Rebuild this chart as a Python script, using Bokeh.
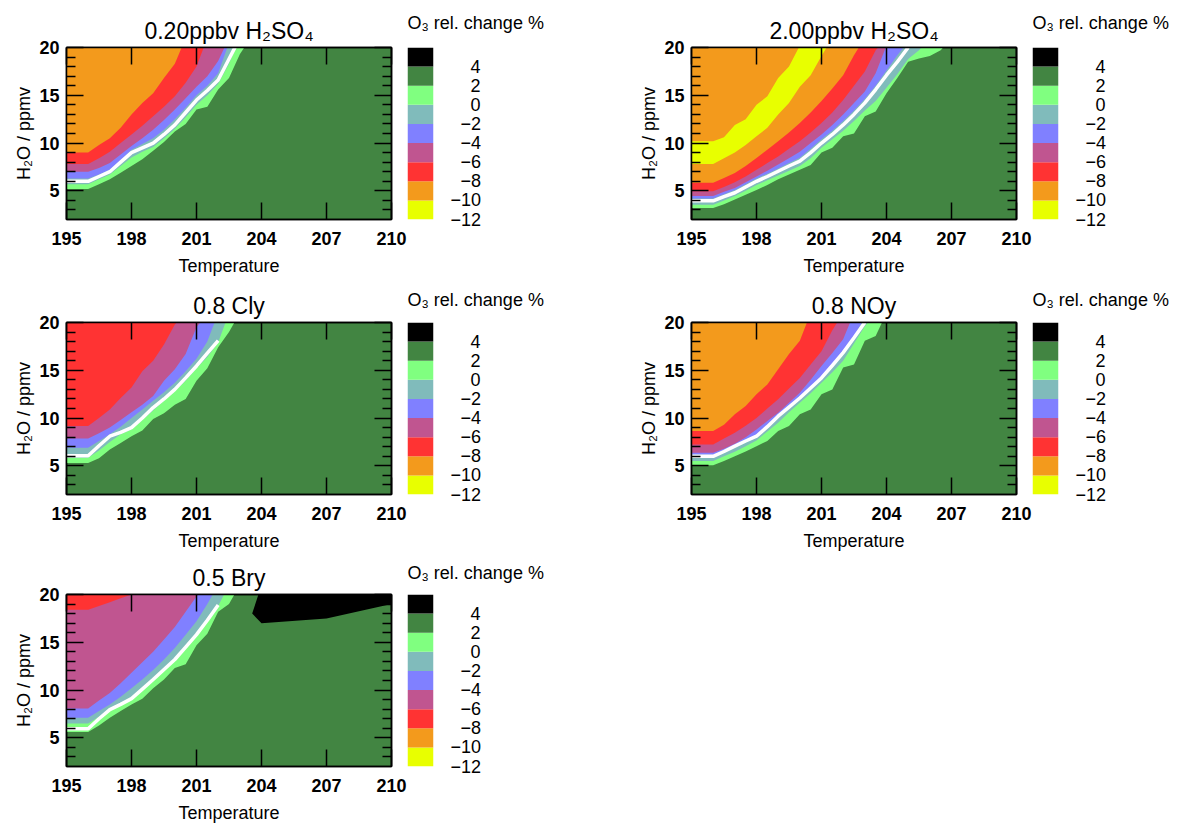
from bokeh.plotting import figure
from bokeh.layouts import column, row
from bokeh.models import FixedTicker, LinearAxis, Range1d
from bokeh.embed import file_html
from bokeh.resources import INLINE

FONT = "Liberation Sans"

# ---------------- data ----------------
T_START = 195.0          # temperature grid of the contour boundaries
T_STEP = 0.5
T_MIN, T_MAX = 195, 210
H_MIN, H_MAX = 2, 20

X_TICKS = [195, 198, 201, 204, 207, 210]
Y_TICKS = [5, 10, 15, 20]
Y_MINOR = [3, 4, 6, 7, 8, 9, 11, 12, 13, 14, 16, 17, 18, 19]

CB_TITLE = "O₃ rel. change %"
CB_LEVELS = [-12, -10, -8, -6, -4, -2, 0, 2, 4, 6]
CB_LABELS = ["−12", "−10", "−8", "−6", "−4", "−2", "0", "2", "4"]
CB_COLORS = ["#e8ff00", "#f39a1c", "#ff3333", "#c05590", "#8080ff",
             "#80bbbb", "#80ff80", "#428542", "#000000"]

# H2O (ppmv) where O3 change crosses each level, on the T grid (195, 195.5, ...)
P1_TITLE = "0.20ppbv H₂SO₄"
P1_L2 = [5.2, 5.2, 5.2, 5.7, 6.2, 6.9, 7.6, 8.3, 9.2, 10.1, 11.2, 12.0, 13.5, 13.8, 15.6, 16.8, 19.3, 21]
P1_L0 = [5.7, 5.7, 5.7, 6.2, 6.7, 7.6, 8.5, 9.1, 9.6, 10.5, 11.5, 12.7, 14.0, 15.0, 16.2, 18.3, 21]
P1_LM2 = [6.3, 6.3, 6.3, 6.7, 7.2, 8.2, 9.3, 9.9, 10.5, 11.4, 12.5, 13.7, 15.0, 16.0, 17.3, 20.5]
P1_LM4 = [7.0, 7.0, 7.0, 7.4, 7.9, 8.8, 9.7, 10.5, 11.4, 12.4, 13.5, 14.7, 15.9, 17.0, 18.6, 21]
P1_LM6 = [7.8, 7.8, 7.8, 8.4, 9.1, 10.0, 10.9, 11.8, 12.8, 13.8, 14.9, 16.3, 18.0, 21]
P1_LM8 = [9.0, 9.0, 9.0, 9.8, 10.5, 11.6, 13.0, 14.2, 15.2, 16.8, 18.3, 21]
P1_WHITE = [6.0, 6.0, 6.0, 6.5, 7.0, 8.0, 9.0, 9.5, 10.0, 10.9, 11.9, 13.2, 14.5, 15.5, 16.6, 18.8, 21]

P2_TITLE = "2.00ppbv H₂SO₄"
P2_L2 = [3.2, 3.2, 3.2, 3.6, 4.1, 4.6, 5.1, 5.6, 6.2, 6.7, 7.2, 7.7, 9.0, 9.5, 10.7, 11.0, 12.8, 13.3,
         15.2, 16.8, 18.5, 18.85, 19.1, 19.7, 21]
P2_L0 = [3.55, 3.55, 3.55, 4.0, 4.45, 5.0, 5.6, 6.1, 6.6, 7.1, 7.6, 8.4, 9.5, 10.4, 11.3, 12.3, 13.4,
         14.4, 15.8, 17.2, 18.8, 19.7, 21]
P2_LM2 = [4.2, 4.2, 4.2, 4.65, 5.1, 5.7, 6.3, 6.8, 7.35, 7.9, 8.45, 9.4, 10.4, 11.3, 12.3, 13.4, 14.6,
          16.0, 17.6, 19.2, 20.6]
P2_LM4 = [4.45, 4.45, 4.45, 4.9, 5.3, 5.9, 6.5, 7.1, 7.75, 8.4, 9.1, 10.0, 10.9, 11.9, 13.0, 14.2, 15.4,
          17.3, 20.2]
P2_LM6 = [4.96, 4.96, 4.96, 5.4, 5.9, 6.5, 7.2, 7.9, 8.6, 9.4, 10.2, 11.1, 12.1, 13.2, 14.5, 16.0, 17.5,
          19.7, 21]
P2_LM8 = [5.85, 5.85, 5.85, 6.35, 6.87, 7.6, 8.44, 9.3, 10.2, 11.1, 12.1, 13.2, 14.4, 15.7, 17.1, 19.2, 21]
P2_LM10_LO = [7.8, 7.8, 7.8, 8.4, 9.0, 9.8, 10.7, 11.6, 13.0, 14.2, 15.9, 17.1, 19.1, 21]
P2_LM10_HI = [10.2, 10.2, 10.2, 10.6, 11.9, 12.5, 14.0, 14.9, 16.8, 18.0, 20.2, 21]
P2_WHITE = [3.95, 3.95, 3.95, 4.4, 4.8, 5.4, 6.0, 6.5, 7.05, 7.6, 8.1, 9.0, 10.0, 10.9, 11.9, 13.0, 14.2,
            15.6, 17.1, 18.5, 20.0]

P3_TITLE = "0.8 Cly"
P3_L2 = [5.3, 5.3, 5.3, 5.8, 6.7, 7.4, 8.1, 8.7, 9.9, 10.5, 11.4, 12.0, 13.9, 15.2, 17.4, 19.0, 21]
P3_L0 = [5.85, 5.85, 5.85, 6.6, 7.5, 8.3, 8.8, 9.8, 10.8, 11.8, 12.8, 13.9, 15.2, 16.4, 17.9, 21]
P3_LM2 = [6.9, 6.9, 6.9, 7.6, 8.3, 9.1, 10.0, 10.9, 11.8, 12.7, 13.7, 14.9, 16.2, 18.0, 21]
P3_LM4 = [7.87, 7.87, 7.87, 8.4, 9.0, 9.8, 10.6, 11.4, 12.3, 13.9, 15.1, 16.7, 19.5, 21]
P3_LM6 = [9.16, 9.16, 9.16, 10.0, 10.9, 12.1, 13.2, 14.9, 16.0, 17.7, 19.8, 21]
P3_WHITE = [6.05, 6.05, 6.05, 7.1, 8.1, 8.5, 9.0, 10.0, 11.1, 12.0, 13.0, 14.2, 15.45, 16.8, 18.1]

P4_TITLE = "0.8 NOy"
P4_L2 = [5.07, 5.07, 5.07, 5.5, 6.0, 6.5, 7.06, 7.6, 8.64, 9.16, 10.4, 10.9, 12.5, 13.0, 15.3, 15.6,
         18.1, 18.6, 21]
P4_L0 = [5.5, 5.5, 5.5, 6.0, 6.47, 7.05, 7.66, 8.6, 9.5, 10.6, 11.6, 12.6, 13.7, 14.8, 16.0, 17.8, 19.6, 21]
P4_LM2 = [6.15, 6.15, 6.15, 6.65, 7.2, 7.75, 8.25, 9.25, 10.35, 11.3, 12.25, 13.3, 14.35, 15.65, 17.0,
          18.6, 20.5]
P4_LM4 = [6.36, 6.36, 6.36, 6.8, 7.3, 8.0, 8.8, 9.7, 10.56, 11.6, 12.66, 14.0, 15.45, 16.8, 18.25, 21]
P4_LM6 = [7.24, 7.24, 7.24, 7.85, 8.46, 9.2, 10.0, 11.0, 11.96, 13.1, 14.2, 15.6, 17.0, 19.2, 21]
P4_LM8 = [8.64, 8.64, 8.64, 9.3, 10.4, 11.25, 12.5, 13.5, 15.1, 16.7, 18.1, 21]
P4_WHITE = [6.0, 6.0, 6.0, 6.5, 7.06, 7.6, 8.1, 9.1, 10.2, 11.15, 12.1, 13.15, 14.2, 15.5, 16.85, 18.4, 20.0]

P5_TITLE = "0.5 Bry"
P5_L2 = [5.6, 5.6, 5.6, 6.3, 7.1, 7.8, 8.5, 9.1, 10.2, 11.1, 12.3, 12.7, 14.7, 15.9, 18.2, 19.0, 21]
P5_L0 = [6.5, 6.5, 6.5, 7.2, 7.9, 8.5, 9.2, 10.2, 11.2, 12.2, 13.2, 14.5, 15.9, 17.3, 18.8, 21]
P5_LM2 = [7.1, 7.1, 7.1, 7.8, 8.5, 9.3, 10.2, 11.1, 12.1, 13.2, 14.4, 15.8, 17.2, 19.0, 21]
P5_LM4 = [8.07, 8.07, 8.07, 8.9, 9.7, 10.7, 11.8, 12.9, 14.0, 15.3, 16.6, 18.2, 19.8, 21]
P5_LM6 = [18.4, 18.4, 18.4, 18.8, 19.2, 19.6, 20.0, 20.5]
P5_GT4_T = [203.9, 203.57, 204.0, 207.0, 210.0, 210.5]
P5_GT4_H = [20.3, 18.0, 17.0, 17.5, 19.0, 19.3]
P5_WHITE = [5.95, 5.95, 5.95, 7.0, 7.96, 8.5, 9.1, 10.1, 11.1, 12.15, 13.2, 14.5, 15.8, 17.3, 18.9]

PANELS = [
    dict(title=P1_TITLE, white=P1_WHITE,
         below={2: P1_L2, 0: P1_L0, -2: P1_LM2, -4: P1_LM4, -6: P1_LM6, -8: P1_LM8}),
    dict(title=P2_TITLE, white=P2_WHITE,
         below={2: P2_L2, 0: P2_L0, -2: P2_LM2, -4: P2_LM4, -6: P2_LM6, -8: P2_LM8,
                -10: (P2_LM10_LO, P2_LM10_HI)}),
    dict(title=P3_TITLE, white=P3_WHITE,
         below={2: P3_L2, 0: P3_L0, -2: P3_LM2, -4: P3_LM4, -6: P3_LM6}),
    dict(title=P4_TITLE, white=P4_WHITE,
         below={2: P4_L2, 0: P4_L0, -2: P4_LM2, -4: P4_LM4, -6: P4_LM6, -8: P4_LM8}),
    dict(title=P5_TITLE, white=P5_WHITE,
         below={2: P5_L2, 0: P5_L0, -2: P5_LM2, -4: P5_LM4, -6: P5_LM6},
         above={4: (P5_GT4_T, P5_GT4_H)}),
]

# ---------------- layout constants ----------------
BORDER_L, FRAME_W, BORDER_R = 66, 325, 16
MAIN_W = BORDER_L + FRAME_W + BORDER_R
FRAME_H = 173
ROWS = [(47, 58, 25), (44, 58, 22), (41, 58, 19)]  # (top border, bottom border, cb title standoff)
CB_W = [218, 145]
CB_BAR_W = 26
FIG_SPACE = "\u2007"


def grid(n):
    return [T_START + T_STEP * i for i in range(n)]


def region_above(h):
    t = grid(len(h))
    xs = [T_MIN - 1] + t + [t[-1], T_MIN - 1]
    ys = [h[0]] + list(h) + [H_MAX + 5, H_MAX + 5]
    return xs, ys


def region_between(lo, hi):
    tl, th = grid(len(lo)), grid(len(hi))
    xs = [T_MIN - 1] + tl + th[::-1] + [T_MIN - 1]
    ys = [lo[0]] + list(lo) + list(hi[::-1]) + [hi[0]]
    return xs, ys


def band_color(level):
    return CB_COLORS[CB_LEVELS.index(level) - 1]


def style_axis(ax):
    ax.axis_line_width = 1.5
    ax.axis_line_color = "black"
    ax.major_tick_in = 17
    ax.major_tick_out = 0
    ax.major_tick_line_width = 1.5
    ax.major_tick_line_color = "black"
    ax.minor_tick_in = 9
    ax.minor_tick_out = 0
    ax.minor_tick_line_width = 1.5
    ax.minor_tick_line_color = "black"
    ax.major_label_text_font = FONT
    ax.major_label_text_font_size = "18px"
    ax.major_label_text_font_style = "bold"
    ax.major_label_text_color = "black"
    ax.axis_label_text_font = FONT
    ax.axis_label_text_font_size = "18px"
    ax.axis_label_text_font_style = "normal"
    ax.axis_label_text_color = "black"


def main_fig(panel, top, bottom):
    p = figure(width=MAIN_W, height=top + FRAME_H + bottom,
               x_range=Range1d(T_MIN, T_MAX), y_range=Range1d(H_MIN, H_MAX),
               output_backend="svg", toolbar_location=None, title=panel["title"],
               min_border_left=BORDER_L, min_border_right=BORDER_R,
               min_border_top=top, min_border_bottom=bottom,
               x_axis_type=None, y_axis_type=None)
    p.background_fill_color = CB_COLORS[CB_LEVELS.index(2)]
    p.border_fill_color = "white"
    p.grid.visible = False
    p.outline_line_color = "black"
    p.outline_line_width = 1.5

    for lev in sorted(panel["below"], reverse=True):
        b = panel["below"][lev]
        xs, ys = region_between(*b) if isinstance(b, tuple) else region_above(b)
        p.patch(xs, ys, fill_color=band_color(lev), line_color=None)
    for lev, (ts, hs) in panel.get("above", {}).items():
        xs = list(ts) + [ts[-1], ts[0]]
        ys = list(hs) + [H_MAX + 5, H_MAX + 5]
        p.patch(xs, ys, fill_color=CB_COLORS[CB_LEVELS.index(lev)], line_color=None)
    w = panel["white"]
    p.line(grid(len(w)), w, line_color="white", line_width=3.5)

    xt = FixedTicker(ticks=X_TICKS, minor_ticks=[])
    yt = FixedTicker(ticks=Y_TICKS, minor_ticks=Y_MINOR)
    bottom_ax = LinearAxis(ticker=xt, axis_label="Temperature")
    left_ax = LinearAxis(ticker=yt, axis_label="H₂O / ppmv")
    top_ax = LinearAxis(ticker=xt, major_label_overrides={t: "" for t in X_TICKS})
    right_ax = LinearAxis(ticker=yt, major_label_overrides={t: "" for t in Y_TICKS})
    p.add_layout(bottom_ax, "below")
    p.add_layout(left_ax, "left")
    p.add_layout(top_ax, "above")
    p.add_layout(right_ax, "right")
    for ax in (bottom_ax, left_ax, top_ax, right_ax):
        style_axis(ax)
    for ax in (bottom_ax, top_ax):
        ax.minor_tick_line_color = None
    bottom_ax.major_label_standoff = 12
    bottom_ax.axis_label_standoff = 8
    left_ax.major_label_standoff = 7
    left_ax.axis_label_standoff = 2
    for ax in (top_ax, right_ax):
        ax.major_label_text_font_size = "1px"
        ax.major_label_standoff = 0

    p.title.text_font = FONT
    p.title.text_font_size = "23px"
    p.title.text_font_style = "normal"
    p.title.text_color = "black"
    p.title.align = "center"
    p.title.vertical_align = "top"
    p.title.standoff = 4
    return p


def pad(label):
    return FIG_SPACE * (3 - len(label)) + label


def cb_fig(width, top, bottom, title_standoff):
    c = figure(width=width, height=top + FRAME_H + bottom, x_range=Range1d(0, 1),
               y_range=Range1d(CB_LEVELS[0], CB_LEVELS[-1]),
               x_axis_type=None, y_axis_type=None, title=CB_TITLE,
               output_backend="svg", toolbar_location=None,
               min_border_left=0, min_border_right=width - CB_BAR_W,
               min_border_top=top, min_border_bottom=bottom)
    c.grid.visible = False
    c.outline_line_color = None
    c.quad(left=0, right=1, bottom=CB_LEVELS[:-1], top=CB_LEVELS[1:],
           fill_color=CB_COLORS, line_color=None)
    ax = LinearAxis(ticker=FixedTicker(ticks=CB_LEVELS[:-1], minor_ticks=[]),
                    major_label_overrides={lev: pad(lab) for lev, lab in zip(CB_LEVELS, CB_LABELS)})
    ax.axis_line_color = None
    ax.major_tick_line_color = None
    ax.minor_tick_line_color = None
    ax.major_tick_in = 0
    ax.major_tick_out = 0
    ax.major_label_standoff = 17
    ax.major_label_text_font = FONT
    ax.major_label_text_font_size = "18px"
    ax.major_label_text_font_style = "normal"
    ax.major_label_text_color = "black"
    c.add_layout(ax, "right")
    c.title.text_font = FONT
    c.title.text_font_size = "18px"
    c.title.text_font_style = "normal"
    c.title.text_color = "black"
    c.title.align = "left"
    c.title.vertical_align = "top"
    c.title.standoff = title_standoff
    return c


rows = []
t, b, s = ROWS[0]
rows.append(row(main_fig(PANELS[0], t, b), cb_fig(CB_W[0], t, b, s),
                main_fig(PANELS[1], t, b), cb_fig(CB_W[1], t, b, s)))
t, b, s = ROWS[1]
rows.append(row(main_fig(PANELS[2], t, b), cb_fig(CB_W[0], t, b, s),
                main_fig(PANELS[3], t, b), cb_fig(CB_W[1], t, b, s)))
t, b, s = ROWS[2]
rows.append(row(main_fig(PANELS[4], t, b), cb_fig(CB_W[0], t, b, s)))
layout = column(*rows)

open("out.html", "w").write(file_html(layout, INLINE))
